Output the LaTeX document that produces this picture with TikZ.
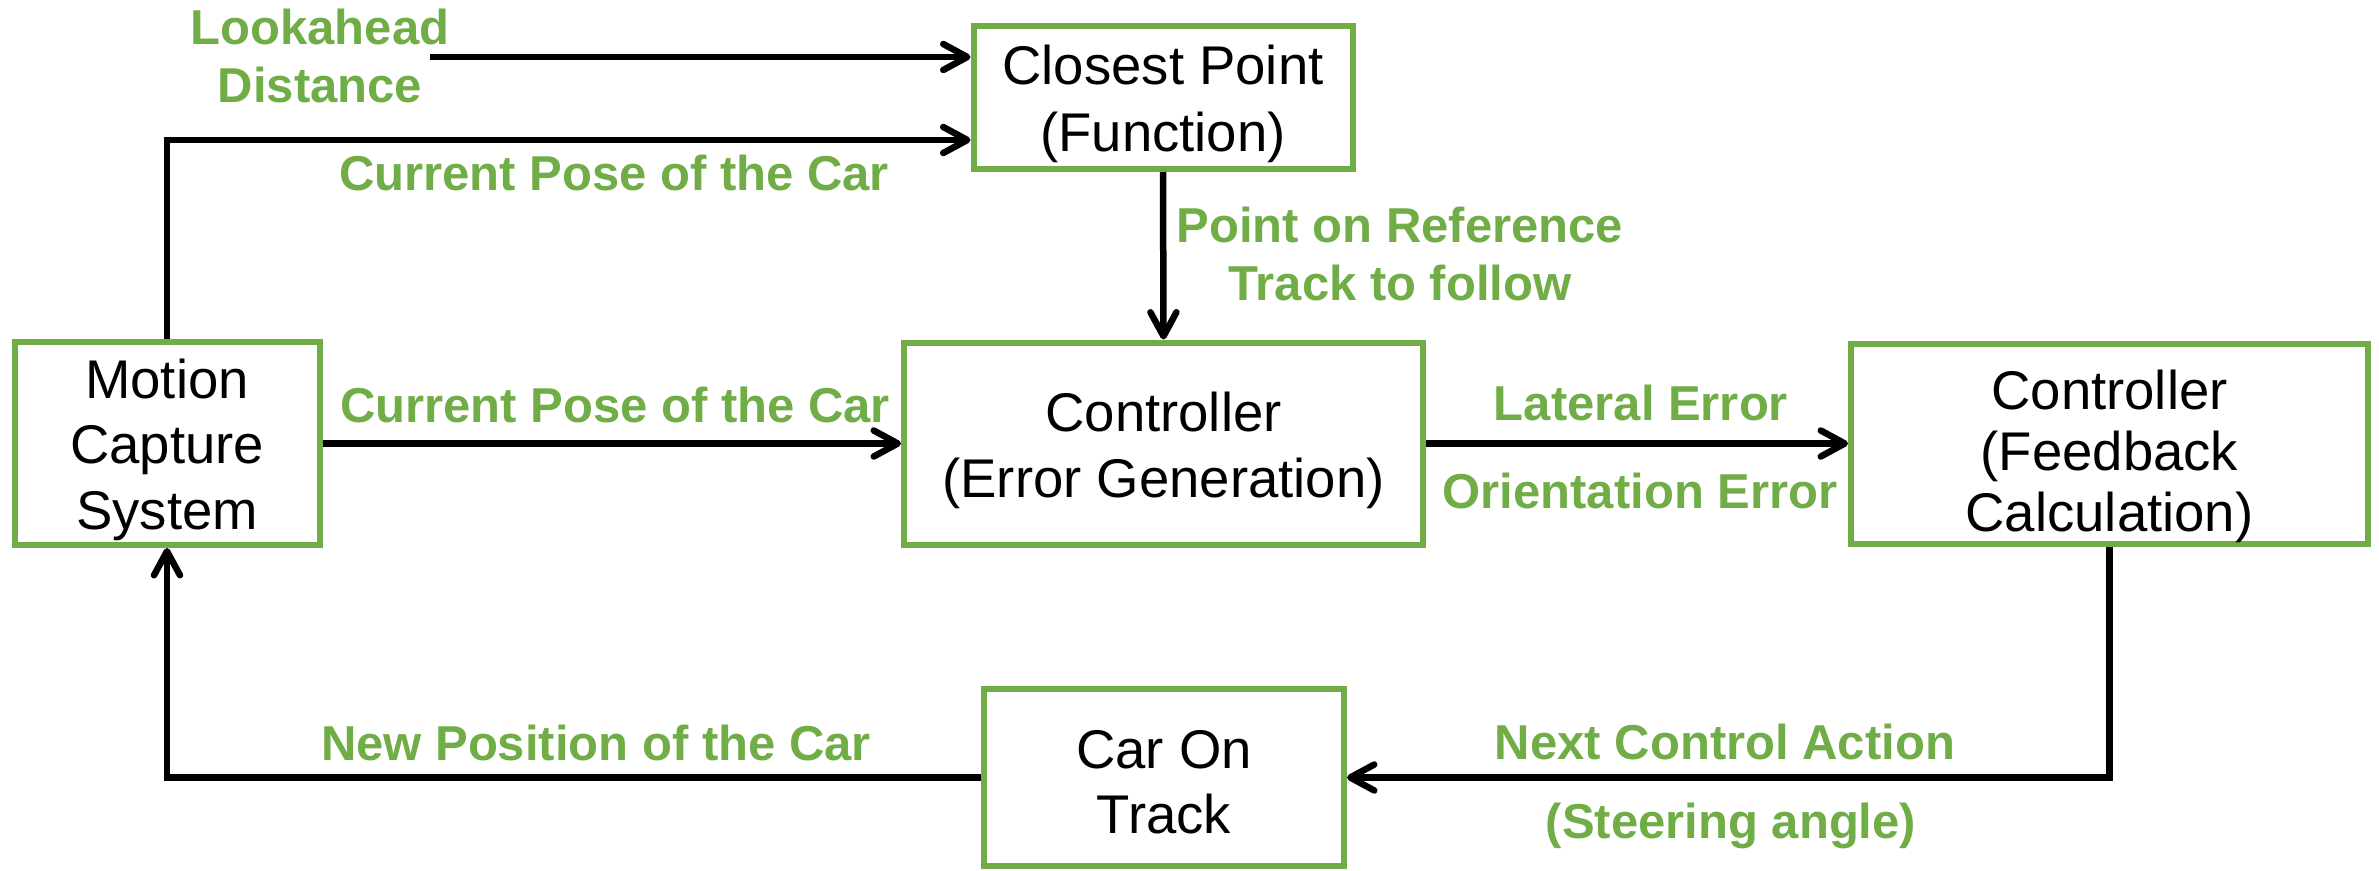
\documentclass[tikz,border=0pt]{standalone}
\usepackage{fontspec}
\setmainfont{Liberation Sans}
\usetikzlibrary{arrows.meta}
\definecolor{ogreen}{HTML}{70AD47}
\begin{document}
\begin{tikzpicture}[x=1pt,y=-1pt,
  box/.style={draw=ogreen, line width=6pt, rectangle, inner sep=0pt, align=center, font=\fontsize{54.5}{66}\selectfont},
  lbl/.style={text=ogreen, font=\fontsize{49}{58}\selectfont\bfseries, inner sep=0pt, align=center},
  arr/.style={line width=6.5pt, -{Straight Barb[length=24pt,width=26pt,round]}},
  conn/.style={line width=6.5pt}]
\useasboundingbox (0,0) rectangle (2379,870);

% boxes
\node[box, minimum width=379pt, minimum height=143pt, font=\fontsize{54.5}{67}\selectfont, text height=119pt, text depth=12pt] (cp) at (1163,97.5) {Closest Point\\(Function)};
\node[box, minimum width=305pt, minimum height=203pt, font=\fontsize{54.5}{65.5}\selectfont, text height=183pt, text depth=12pt] (mc) at (167,443.5) {Motion\\Capture\\System};
\node[box, minimum width=519pt, minimum height=202pt, text height=119pt, text depth=12pt] (ec) at (1163.5,443.5) {Controller\\(Error Generation)};
\node[box, minimum width=517pt, minimum height=200pt, font=\fontsize{54.5}{61}\selectfont, text height=185pt, text depth=10pt] (fb) at (2109.5,443.5) {Controller\\(Feedback\\Calculation)};
\node[box, minimum width=360pt, minimum height=177pt, font=\fontsize{54.5}{65}\selectfont, text height=123pt, text depth=12pt] (car) at (1164,777.5) {Car On\\Track};

% connectors
\coordinate (la) at (430,57);
\draw[arr] (la) -- (la -| cp.west);
\draw[arr] (mc.north) |- (cp.west |- 0,140);
\draw[arr] (cp.south) -- (ec.north);
\draw[arr] (mc.east) -- (ec.west);
\draw[arr] (ec.east) -- (fb.west);
\draw[arr] (fb.south) |- (car.east);
\draw[arr] (car.west) -| (mc.south);

% labels
\node[lbl] (lla) at (320,56) {Lookahead\\Distance};
\node[lbl, anchor=base] (lcp1) at (614,190) {Current Pose of the Car};
\node[lbl, anchor=base] (lcp2) at (615,422) {Current Pose of the Car};
\node[lbl] (lpr) at (1400,254) {Point on Reference\\Track to follow};
\node[lbl, anchor=base] (lle) at (1641,420) {Lateral Error};
\node[lbl, anchor=base] (loe) at (1640,508) {Orientation Error};
\node[lbl, anchor=base] (lnp) at (596,760) {New Position of the Car};
\node[lbl, anchor=base] (lnc) at (1725,759) {Next Control Action};
\node[lbl, anchor=base] (lsa) at (1731,838) {(Steering angle)};
\end{tikzpicture}
\end{document}
